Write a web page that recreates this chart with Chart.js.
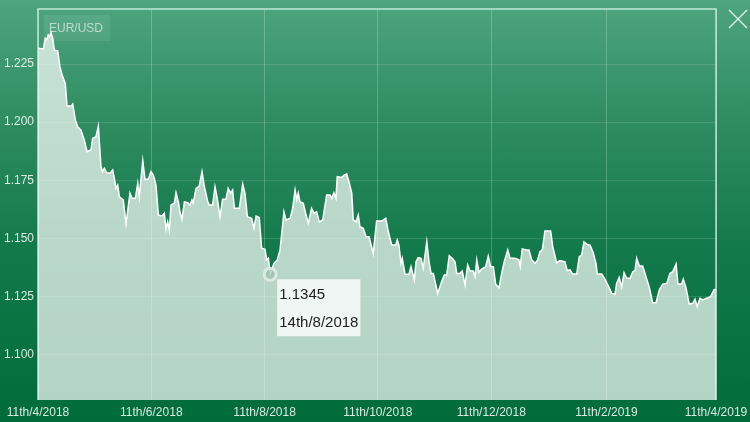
<!DOCTYPE html>
<html>
<head>
<meta charset="utf-8">
<script src="https://cdn.jsdelivr.net/npm/chart.js@4/dist/chart.umd.min.js"></script>
<style>
html,body{margin:0;padding:0;width:750px;height:422px;overflow:hidden;}
body{background:linear-gradient(to bottom,#4ea57f 0%,#2f8d61 28%,#137a4b 58%,#006c39 100%);font-family:"Liberation Sans",Arial,sans-serif;position:relative;}
#wrap{position:absolute;left:0;top:0;width:750px;height:422px;}
#pair{position:absolute;left:44px;top:15px;width:66px;height:26px;background:rgba(255,255,255,0.08);color:rgba(255,255,255,0.6);font-size:12px;line-height:26px;padding-left:5px;box-sizing:border-box;}
#close{position:absolute;left:728px;top:9px;}
</style>
</head>
<body>
<div id="wrap"><canvas id="c"></canvas></div>
<div id="pair">EUR/USD</div>
<svg id="close" width="20" height="20" viewBox="0 0 20 20"><path d="M1 1 L19 19 M19 1 L1 19" stroke="rgba(255,255,255,0.85)" stroke-width="1.3" fill="none"/></svg>
<script>
// Day offsets from 11th/4/2018
const days = [0,2.9,3.9,4.8,5.5,6.1,7.0,7.9,8.8,10.6,11.8,13.3,14.7,15.6,17.8,18.7,20.1,21.4,23.1,24.9,26.4,28.5,29.4,31.2,32.5,33.9,34.8,35.7,37.0,38.8,40.2,41.1,42.0,42.9,43.8,45.9,47.4,49.5,50.6,52.4,53.7,54.5,56.4,57.6,59.4,60.8,62.1,63.5,64.8,66.8,68.0,68.9,69.8,70.7,71.6,73.4,74.3,75.7,76.4,77.5,78.8,80.6,81.8,82.9,83.6,85.1,86.8,88.3,89.5,91.4,92.2,94.0,95.3,96.5,98.0,99.4,101.2,102.4,103.7,104.8,105.7,108.4,110.2,111.4,112.7,115.0,116.3,117.4,119.1,120.4,122.2,123.1,124.0,125,127.0,128.8,130.3,131.7,132.4,133.5,135.7,137.1,138.4,139.3,140.1,141.0,142.8,144.3,145.5,147.3,148.6,150.0,151.4,153.3,155.4,157.2,158.1,159.3,160.4,161.1,163.5,164.7,166.2,167.6,168.9,169.7,171.2,172.4,173.3,175.1,176.6,178.2,180.5,182.3,185.0,187.2,188.6,190.4,192.6,193.4,194.3,195.4,196.1,197.6,199.7,200.8,202.6,203.5,204.7,206.2,207.4,209.3,210.5,211.6,212.8,215.2,217.0,218.7,220.0,221.4,223.0,224.5,225.4,227.2,228.4,229.9,231.3,232.6,234.3,235.3,236.2,237.4,238.9,241.0,242.4,243.7,245.1,246.4,248.2,249.6,251.0,252.9,254.1,256.8,258.9,259.6,260.7,263.1,264.3,265.8,267.6,269.0,270.2,271.5,272.9,276.0,277.1,279.2,281.0,283.7,284.9,286.4,287.8,290.0,291.4,292.7,293.9,295.4,297.2,298.9,300.4,301.1,303.5,305.2,307.0,308.9,310.6,311.5,312.9,314.2,315.5,316.9,318.7,320.2,321.4,322.3,323.7,325.5,327.3,329.1,330.9,332.7,334.5,336.3,338.5,340.2,341.7,343.5,344.5,346.5,347.4,348.8,350.6,352.5,353.7,354.9,356.4,357.8,360.0,362.1,363.9,365];
const rates = [1.2318,1.2315,1.2361,1.2356,1.2375,1.2367,1.2385,1.2361,1.2310,1.2307,1.2238,1.2195,1.2167,1.2069,1.2069,1.2078,1.2009,1.1980,1.1966,1.1923,1.1873,1.1880,1.1930,1.1937,1.1983,1.1808,1.1787,1.1801,1.1782,1.1780,1.1794,1.1758,1.1715,1.1729,1.1679,1.1665,1.1562,1.1694,1.1672,1.1672,1.1737,1.1679,1.1834,1.1754,1.1754,1.1787,1.1772,1.1729,1.1600,1.1596,1.1608,1.1539,1.1571,1.1536,1.1643,1.1651,1.1696,1.1651,1.1614,1.1582,1.1657,1.1653,1.1643,1.1665,1.1653,1.1715,1.1725,1.1787,1.1725,1.1657,1.1643,1.1643,1.1722,1.1672,1.1593,1.1668,1.1668,1.1715,1.1694,1.1708,1.1629,1.1629,1.1734,1.1694,1.1593,1.1586,1.1543,1.1596,1.1590,1.1457,1.1453,1.1407,1.1414,1.1345,1.1392,1.1407,1.1450,1.1557,1.1614,1.1579,1.1586,1.1629,1.1708,1.1665,1.1694,1.1658,1.1651,1.1600,1.1565,1.1629,1.1608,1.1614,1.1571,1.1579,1.1686,1.1686,1.1672,1.1696,1.1672,1.1765,1.1762,1.1772,1.1777,1.1737,1.1694,1.1579,1.1571,1.1600,1.1550,1.1543,1.1507,1.1507,1.1435,1.1574,1.1574,1.1586,1.1528,1.1471,1.1471,1.1493,1.1471,1.1392,1.1414,1.1345,1.1345,1.1378,1.1321,1.1399,1.1417,1.1414,1.1371,1.1485,1.1399,1.1349,1.1349,1.1263,1.1306,1.1342,1.1342,1.1425,1.1414,1.1399,1.1349,1.1349,1.1359,1.1299,1.1385,1.1359,1.1359,1.1335,1.1407,1.1354,1.1368,1.1378,1.1424,1.1378,1.1378,1.1302,1.1287,1.1349,1.1399,1.1450,1.1414,1.1414,1.1407,1.1378,1.1454,1.1450,1.1450,1.1407,1.1392,1.1407,1.1442,1.1450,1.1531,1.1531,1.1464,1.1395,1.1404,1.1399,1.1361,1.1364,1.1346,1.1346,1.1421,1.1428,1.1485,1.1475,1.1471,1.1438,1.1392,1.1346,1.1346,1.1324,1.1295,1.1263,1.1260,1.1306,1.1332,1.1289,1.1352,1.1328,1.1328,1.1356,1.1361,1.1414,1.1381,1.1381,1.1335,1.1289,1.1223,1.1223,1.1278,1.1303,1.1306,1.1349,1.1356,1.1389,1.1303,1.1303,1.1324,1.1289,1.1217,1.1220,1.1238,1.1206,1.1242,1.1235,1.1242,1.1249,1.1278,1.1281];
const xTickDays = [0,61,122,183,244,306,365];
const xTickLabels = ["11th/4/2018","11th/6/2018","11th/8/2018","11th/10/2018","11th/12/2018","11th/2/2019","11th/4/2019"];
const yTicks = [1.100,1.125,1.150,1.175,1.200,1.225];
const highlightDay = 125;
const highlightLabel = "14th/8/2018";

const frame = {
  id:'frame',
  beforeDatasetsDraw(chart){
    const {ctx, chartArea:a} = chart;
    ctx.save();
    ctx.strokeStyle='rgba(215,245,230,0.85)';
    ctx.lineWidth=1.5;
    ctx.beginPath();
    ctx.moveTo(a.left,a.bottom);
    ctx.lineTo(a.left,a.top);
    ctx.lineTo(a.right,a.top);
    ctx.lineTo(a.right,a.bottom);
    ctx.stroke();
    ctx.restore();
  }
};

Chart.Tooltip.positioners.offsetPoint = function(items){
  if(!items.length) return false;
  const el = items[0].element;
  return {x: el.x + 7, y: el.y + 5};
};

const tickColor = 'rgba(235,245,238,0.92)';
const chart = new Chart(document.getElementById('c'), {
  type:'line',
  data:{
    datasets:[{
      data: days.map((d,i)=>({x:d,y:rates[i]})),
      borderColor:'#ffffff',
      borderWidth:1.5,
      backgroundColor:'rgba(255,255,255,0.7)',
      fill:'start',
      tension:0,
      pointRadius:0,
      pointHoverRadius:6,
      pointHoverBorderWidth:3,
      pointHoverBorderColor:'rgba(225,238,230,0.9)',
      pointHoverBackgroundColor:'rgba(150,185,165,0.6)'
    }]
  },
  options:{
    responsive:true,
    maintainAspectRatio:false,
    animation:false,
    events:[],
    layout:{padding:{top:9,right:34,left:0,bottom:0}},
    plugins:{
      legend:{display:false},
      tooltip:{
        enabled:true,
        position:'offsetPoint',
        xAlign:'left', yAlign:'top',
        caretSize:0, caretPadding:0, cornerRadius:0,
        displayColors:false,
        backgroundColor:'rgba(243,248,245,0.94)',
        titleColor:'#1e1e1e', bodyColor:'#1e1e1e',
        titleFont:{family:'"Liberation Sans", Arial, sans-serif',size:15,weight:'normal'},
        bodyFont:{family:'"Liberation Sans", Arial, sans-serif',size:15},
        titleMarginBottom:10,
        padding:{top:7,bottom:4,left:2,right:2},
        callbacks:{
          title:(items)=>items[0].parsed.y.toFixed(4),
          label:()=>highlightLabel
        }
      }
    },
    scales:{
      x:{
        type:'linear', min:0, max:365,
        afterBuildTicks:(s)=>{ s.ticks = xTickDays.map(v=>({value:v})); },
        afterFit:(s)=>{ s.height = 22; s.paddingLeft = 0; s.paddingRight = 0; },
        ticks:{
          autoSkip:false, maxRotation:0, padding:5, color:tickColor,
          font:{family:'"Liberation Sans", Arial, sans-serif',size:12},
          callback:(v)=>{ const i = xTickDays.indexOf(v); return i>=0 ? xTickLabels[i] : ''; }
        },
        grid:{color:'rgba(255,255,255,0.22)', lineWidth:1, drawTicks:false},
        border:{display:false}
      },
      y:{
        type:'linear', min:1.0804, max:1.2487,
        afterBuildTicks:(s)=>{ s.ticks = yTicks.map(v=>({value:v})); },
        afterFit:(s)=>{ s.width = 38; s.paddingTop = 0; s.paddingBottom = 0; },
        ticks:{
          padding:4, color:tickColor,
          font:{family:'"Liberation Sans", Arial, sans-serif',size:12},
          callback:(v)=>Number(v).toFixed(3)
        },
        grid:{color:'rgba(255,255,255,0.13)', lineWidth:1, drawTicks:false},
        border:{display:false}
      }
    }
  },
  plugins:[frame]
});

const hi = days.indexOf(highlightDay);
chart.setActiveElements([{datasetIndex:0,index:hi}]);
chart.tooltip.setActiveElements([{datasetIndex:0,index:hi}],{x:0,y:0});
chart.update();
</script>
</body>
</html>
